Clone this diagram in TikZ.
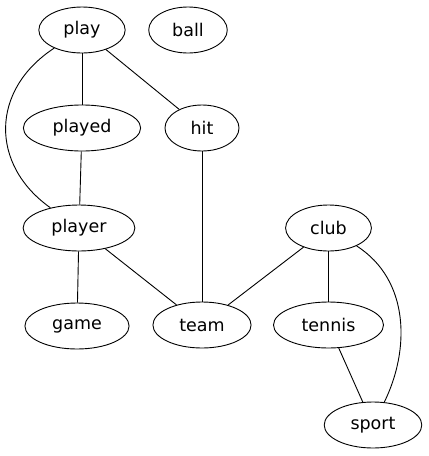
\documentclass[tikz,border=0pt]{standalone}
\usepackage{fontspec}
\setmainfont{DejaVu Sans}
\usetikzlibrary{positioning}
\usetikzlibrary{shapes.geometric}

\begin{document}
\begin{tikzpicture}[x=1pt, y=-1pt, auto, node distance =98pt and 120pt, on grid,
  line width=0.9pt,
  term/.style ={ ellipse, draw, black, text = black, font=\fontsize{17.5}{20}\selectfont,
  inner xsep=12pt, inner ysep=2pt, minimum width = 74pt, minimum height = 46pt}]
  \useasboundingbox (0,0) rectangle (429,456);
  \node[term] (play) at (82,30) {play};
  \node[term] (ball) [right=106pt of play] {ball};
  \node[term] (played) [below=of play] {played};
  \node[term] (hit) [right=of played] {hit};
  \node[term] (player) at (79,228) {player};
  \node[term] (game) at (77,326) {game};
  \node[term] (team) [below=197pt of hit] {team};
  \node[term] (club) at (328.5,228) {club};
  \node[term] (tennis) [below=97pt of club] {tennis};
  \node[term] (sport) at (373,425) {sport};
  \path (play) edge (played);
  \path (play) edge (hit);
  \draw (play) .. controls (-10,90) and (-10,165) .. (player);
  \path (played) edge (player);
  \path (hit) edge (team);
  \path (player) edge (game);
  \path (player) edge (team);
  \path (club) edge (team);
  \path (club) edge (tennis);
  \draw (club) .. controls (410,280) and (410,350) .. (sport);
  \path (tennis) edge (sport);
\end{tikzpicture}
\end{document}
